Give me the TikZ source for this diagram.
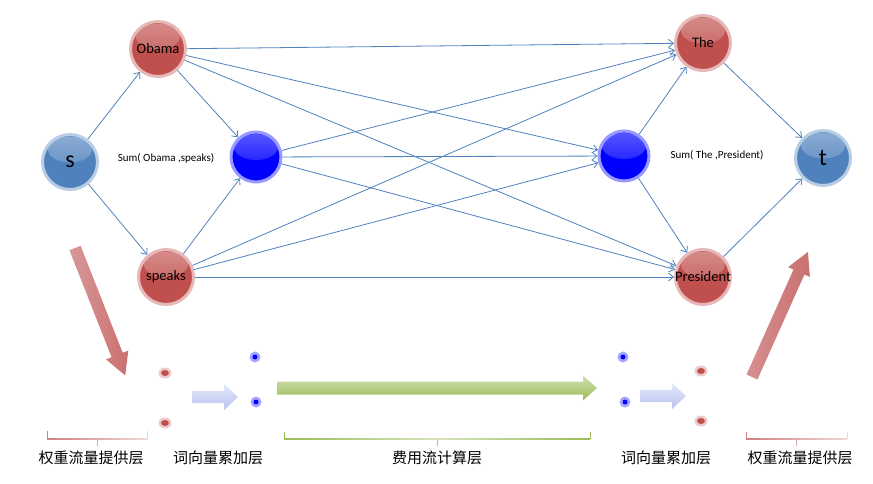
\documentclass[tikz,border=0pt]{standalone}
\usepackage{fontspec}
\setmainfont{Carlito}
\newfontfamily\cjk{Noto Sans CJK SC}
\usetikzlibrary{arrows.meta, positioning}

\definecolor{wordred}{RGB}{192,80,77}
\definecolor{endblue}{RGB}{79,129,189}
\definecolor{sumblue}{RGB}{0,0,255}
\definecolor{linkblue}{RGB}{79,129,189}
\definecolor{costgreen}{RGB}{155,187,89}
\definecolor{accblue}{RGB}{165,180,235}
\definecolor{arrowred}{RGB}{196,96,96}

\begin{document}
\begin{tikzpicture}[x=1pt, y=-1pt,
	glossy/.style={circle, inner sep=0pt, minimum size=55pt, line width=3pt, draw=#1!40, fill=#1, text=black,
		path picture={\shade[top color=white, bottom color=#1, opacity=0.35] ([yshift=-15pt]path picture bounding box.north) ellipse [x radius=22pt, y radius=13pt];}},
	word/.style={glossy=wordred, font=\fontsize{14.5}{16}\selectfont},
	ends/.style={glossy=endblue, font=\fontsize{24}{26}\selectfont},
	sum/.style={glossy=sumblue, minimum size=50pt},
	sumlabel/.style={font=\fontsize{11}{12}\selectfont},
	link/.style={linkblue, line width=0.8pt, -{Straight Barb[length=5pt,width=8pt]}},
	layertext/.style={font=\cjk\fontsize{15}{17}\selectfont}]
	\useasboundingbox (0,0) rectangle (873,484);
	
	% Knoten
	\node[ends] (s) at (70,162) {s};
	\node[word] (obama) at (158,49) {Obama};
	\node[word] (speaks) at (166,277) {speaks};
	\node[sum] (sumL) at (256,157) {};
	\node[sumlabel] (sumLtext) at (166,158) {Sum( Obama ,speaks)};
	\node[sum] (sumR) at (624,156) {};
	\node[sumlabel] (sumRtext) at (717,155) {Sum( The ,President)};
	\node[word] (the) at (703,43) {The};
	\node[word] (president) at (703,277) {\makebox[0pt]{President}};
	\node[ends] (t) at (823,158) {t};
	
	% Kanten
	\draw[link] (s) -- (obama);
	\draw[link] (s) -- (speaks);
	\draw[link] (obama) -- (sumL);
	\draw[link] (speaks) -- (sumL);
	\foreach \a in {obama,sumL,speaks} {
		\foreach \b in {the,sumR,president} {
			\draw[link] (\a) -- (\b);
		}
	}
	\draw[link] (sumR) -- (the);
	\draw[link] (sumR) -- (president);
	\draw[link] (the) -- (t);
	\draw[link] (president) -- (t);
	
	% dicke Pfeile unten
	\begin{scope}[shift={(75,248)}, rotate=-68.5]
		\shade[left color=arrowred!65, right color=arrowred!90] (0,-6) -- (115,-6) -- (115,-12) -- (137,0) -- (115,12) -- (115,6) -- (0,6) -- cycle;
	\end{scope}
	\begin{scope}[shift={(752,377)}, rotate=65.9]
		\shade[left color=arrowred!70, right color=arrowred!90] (0,-6) -- (115,-6) -- (115,-12) -- (137,0) -- (115,12) -- (115,6) -- (0,6) -- cycle;
	\end{scope}
	\shade[top color=accblue!30, bottom color=accblue!80] (192,391) -- (224,391) -- (224,384) -- (238,397) -- (224,410) -- (224,403) -- (192,403) -- cycle;
	\shade[top color=accblue!30, bottom color=accblue!80] (640,390) -- (672,390) -- (672,383) -- (686,396) -- (672,409) -- (672,402) -- (640,402) -- cycle;
	\shade[top color=costgreen!45, bottom color=costgreen] (277,381.5) -- (583,381.5) -- (583,375.5) -- (597,388) -- (583,400.5) -- (583,394.5) -- (277,394.5) -- cycle;
	
	% Punkte
	\foreach \p in {(165,373),(165,423),(701,371),(701,421)} {
		\fill[wordred!30] \p ellipse [x radius=6.5, y radius=5.5];
		\fill[wordred] \p ellipse [x radius=4, y radius=3];
	}
	\foreach \p in {(255,357),(256,402),(623,357),(625,402)} {
		\fill[sumblue!35] \p circle [radius=5.5];
		\fill[sumblue] \p circle [radius=2.5];
	}
	
	% Klammern
	\draw[arrowred!80, line width=0.8pt] (47,431) -- (47,439);
	\draw[arrowred!25, line width=0.8pt] (147,431) -- (147,439);
	\shade[left color=arrowred!80, right color=arrowred!25] (47,438.6) rectangle (147,439.4);
	\draw[arrowred!55, line width=0.8pt] (97,439) -- (97,446);
	\draw[costgreen, line width=0.8pt] (284,432) -- (284,439);
	\draw[costgreen, line width=0.8pt] (590,432) -- (590,439);
	\shade[left color=costgreen, right color=costgreen, middle color=costgreen!40] (284,438.6) rectangle (590,439.4);
	\draw[costgreen!80, line width=0.8pt] (437,439) -- (437,446);
	\draw[arrowred!80, line width=0.8pt] (746,432) -- (746,439);
	\draw[arrowred!25, line width=0.8pt] (847,432) -- (847,439);
	\shade[left color=arrowred!80, right color=arrowred!25] (746,438.6) rectangle (847,439.4);
	\draw[arrowred!55, line width=0.8pt] (796,439) -- (796,446);
	
	% Beschriftung
	\node[layertext] (weightL) at (91,458) {权重流量提供层};
	\node[layertext] (accL) at (218,458) {词向量累加层};
	\node[layertext] (cost) at (437,458) {费用流计算层};
	\node[layertext] (accR) at (666,458) {词向量累加层};
	\node[layertext] (weightR) at (800,458) {权重流量提供层};
\end{tikzpicture}
\end{document}
